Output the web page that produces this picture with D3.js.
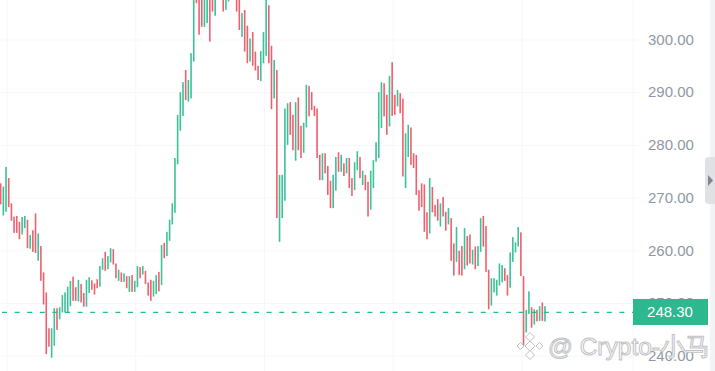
<!DOCTYPE html>
<html>
<head>
<meta charset="utf-8">
<script src="https://cdn.jsdelivr.net/npm/d3@7"></script>
<style>
  html, body { margin: 0; padding: 0; background: #fff; overflow: hidden; }
</style>
</head>
<body>
<div id="chart"></div>
<script>
// candle opens / closes, the ones running off the top are guesses
const opens = [
  272.8, 266.7, 267.4, 273.8, 269.0, 266.5, 266.6, 265.5, 263.1, 264.3,
  265.9, 260.4, 263.9, 267.1, 258.1, 260.9, 255.9, 252.1, 245.3, 239.7,
  242.0, 249.1, 247.0, 248.3, 248.3, 248.3, 249.5, 255.1, 253.1, 250.4,
  253.7, 252.0, 249.4, 252.0, 254.4, 253.8, 254.6, 253.2, 256.4, 259.8,
  256.5, 257.8, 260.3, 257.6, 254.3, 255.9, 254.1, 255.2, 252.2, 255.4,
  252.2, 253.1, 256.9, 255.5, 256.2, 254.0, 254.5, 251.3, 251.8, 256.0,
  253.5, 261.5, 259.0, 261.9, 265.0, 267.2, 276.4, 282.8, 285.6, 294.3,
  288.3, 288.9, 295.9, 309.0, 309.0, 308.5, 302.5, 303.2, 309.5, 308.0,
  304.6, 308.4, 311.0, 308.0, 305.7, 307.3, 311.0, 308.2, 309.0, 308.0,
  300.6, 305.7, 302.7, 295.9, 301.5, 297.8, 295.1, 292.2, 295.6, 297.0,
  306.6, 298.9, 288.9, 294.3, 261.7, 266.2, 269.5, 280.1, 288.2, 285.8,
  277.1, 289.1, 283.7, 278.6, 283.4, 291.3, 290.1, 287.5, 287.0, 278.2,
  273.4, 278.5, 276.1, 273.3, 268.1, 271.4, 278.7, 275.0, 276.6, 274.7,
  277.6, 273.8, 271.5, 275.3, 277.8, 272.5, 274.4, 273.1, 267.8, 271.9,
  276.9, 277.6, 283.3, 291.8, 289.6, 283.6, 295.8, 289.6, 287.4, 289.9,
  288.9, 271.9, 277.8, 283.4, 278.5, 278.2, 271.5, 272.8, 272.6, 267.3,
  263.3, 272.1, 268.7, 269.8, 264.6, 270.2, 267.4, 265.0, 266.2, 261.4,
  257.9, 260.0, 260.9, 256.5, 262.8, 263.1, 257.4, 260.8, 257.1, 259.8,
  266.6, 264.7, 256.4, 249.6, 252.1, 251.5, 253.4, 254.0, 256.7, 255.4,
  253.0, 257.9, 259.7, 260.8, 263.5, 255.2, 244.5, 248.0, 249.3, 246.0,
  248.8, 246.7, 250.2, 246.6
];
const closes = [
  268.8, 272.2, 275.9, 268.3, 265.7, 263.4, 263.4, 262.2, 266.4, 266.6,
  260.5, 263.0, 259.8, 259.6, 263.3, 254.3, 249.8, 240.4, 241.8, 245.3,
  249.1, 245.0, 249.3, 251.6, 252.1, 253.2, 254.3, 250.5, 250.5, 254.5,
  250.2, 249.4, 254.5, 255.0, 252.6, 251.7, 252.9, 257.1, 258.6, 256.2,
  259.0, 260.5, 257.4, 254.8, 256.4, 254.1, 255.7, 252.9, 255.2, 252.2,
  254.3, 257.1, 254.8, 257.1, 253.7, 251.5, 250.5, 254.3, 255.4, 252.3,
  261.1, 258.6, 263.6, 265.9, 269.0, 277.6, 285.8, 290.1, 292.0, 288.6,
  292.4, 297.5, 309.0, 307.0, 301.0, 302.5, 309.0, 309.5, 299.7, 305.4,
  310.0, 311.0, 308.0, 305.4, 308.5, 310.0, 308.0, 310.0, 305.4, 301.9,
  305.1, 297.8, 295.6, 300.3, 295.1, 294.2, 292.4, 297.9, 301.5, 309.0,
  295.6, 286.9, 296.2, 266.2, 274.4, 274.4, 287.0, 288.0, 282.0, 279.1,
  288.2, 279.1, 277.6, 284.3, 291.5, 285.5, 286.7, 285.6, 277.6, 273.4,
  278.5, 274.7, 270.6, 268.1, 274.4, 277.8, 275.0, 278.2, 274.2, 277.6,
  271.9, 270.4, 276.8, 278.9, 273.8, 275.2, 271.5, 266.5, 275.2, 277.2,
  280.6, 290.1, 292.0, 285.5, 282.0, 293.2, 285.6, 285.8, 290.5, 286.1,
  274.1, 282.3, 283.9, 276.3, 275.7, 270.6, 267.6, 268.3, 263.6, 262.2,
  273.8, 267.3, 266.5, 265.7, 269.0, 266.5, 263.8, 268.1, 258.1, 255.3,
  264.5, 255.4, 255.3, 264.3, 257.2, 257.6, 260.2, 256.5, 260.9, 266.2,
  260.8, 256.0, 248.9, 254.8, 254.8, 254.5, 257.6, 257.3, 254.3, 251.5,
  259.7, 262.6, 261.6, 264.5, 255.2, 242.0, 248.8, 252.3, 245.4, 248.9,
  246.6, 249.5, 246.7, 249.5
];
const priceTicks = [240, 250, 260, 270, 280, 290, 300];
const gridIndex = [2.4, 50.4, 98.4, 146.4, 194.4];
const lastPrice = 248.30;

const width = 715, height = 371;
const plotRight = 633;
const green = "#22b98c", red = "#f04a5a", gridColor = "#f6f7f9";

const svg = d3.select("#chart").append("svg")
  .attr("width", width)
  .attr("height", height)
  .style("display", "block");

const x = d3.scaleLinear().domain([0, opens.length - 1]).range([0.67, 545]);
const y = d3.scaleLinear().domain([240, 300]).range([356.2, 40]);

// Right strip of the page
svg.append("rect")
  .attr("x", 710).attr("y", 0)
  .attr("width", 5).attr("height", height)
  .attr("fill", "#f2f3f5");

// Grid
svg.append("g").selectAll("line")
  .data(gridIndex)
  .join("line")
  .attr("x1", d => x(d)).attr("x2", d => x(d))
  .attr("y1", 0).attr("y2", height)
  .attr("stroke", gridColor);

svg.append("line")
  .attr("x1", plotRight).attr("x2", plotRight)
  .attr("y1", 0).attr("y2", height)
  .attr("stroke", gridColor);

svg.append("g").selectAll("line")
  .data(priceTicks)
  .join("line")
  .attr("x1", 0).attr("x2", plotRight + 7)
  .attr("y1", d => y(d)).attr("y2", d => y(d))
  .attr("stroke", gridColor);

// Price axis
const axis = svg.append("g")
  .attr("transform", `translate(${plotRight},0)`)
  .call(d3.axisRight(y).tickValues(priceTicks).tickSize(0).tickPadding(15).tickFormat(d => d.toFixed(2)));
axis.select(".domain").remove();
axis.selectAll("text")
  .attr("dy", "0.28em")
  .attr("fill", "#8f98a5")
  .style("font-family", "'Liberation Sans', Arial, sans-serif")
  .style("font-size", "15px");

// Candles
svg.append("g").attr("opacity", 0.88).selectAll("rect")
  .data(opens.map((o, i) => ({ i, o, c: closes[i] })))
  .join("rect")
  .attr("x", d => x(d.i) - 0.8)
  .attr("width", 1.6)
  .attr("y", d => y(Math.max(d.o, d.c)))
  .attr("height", d => Math.abs(y(d.o) - y(d.c)))
  .attr("fill", d => d.c >= d.o ? green : red);

// Last price line and tag
svg.append("line")
  .attr("x1", 2).attr("x2", plotRight)
  .attr("y1", y(lastPrice)).attr("y2", y(lastPrice))
  .attr("stroke", "#20bd8e")
  .attr("stroke-width", 1.2)
  .attr("stroke-dasharray", "5 7.6");

svg.append("rect")
  .attr("x", plotRight).attr("y", y(lastPrice) - 13.5)
  .attr("width", 75).attr("height", 26)
  .attr("fill", "#2db88f");

svg.append("text")
  .attr("x", plotRight + 37).attr("y", y(lastPrice) - 0.5)
  .attr("dy", "0.35em")
  .attr("text-anchor", "middle")
  .attr("fill", "#fff")
  .style("font-family", "'Liberation Sans', Arial, sans-serif")
  .style("font-size", "15px")
  .text(lastPrice.toFixed(2));

// Collapse handle on the right edge
svg.append("rect")
  .attr("x", 705).attr("y", 157)
  .attr("width", 14).attr("height", 47).attr("rx", 4)
  .attr("fill", "#dfe1e5");
svg.append("path")
  .attr("d", "M708,175L713,180.5L708,186Z")
  .attr("fill", "#7d8590");

// Watermark
const mark = svg.append("g")
  .attr("fill", "#fff")
  .attr("stroke", "#bfc1c5")
  .attr("stroke-width", 1);

[[530, 346, 5], [520.5, 346, 3.5], [539.5, 346, 3.5], [530, 337, 4.5], [530, 355, 4.5]].forEach(([cx, cy, r]) => {
  mark.append("path")
    .attr("d", `M${cx},${cy - r}L${cx + r},${cy}L${cx},${cy + r}L${cx - r},${cy}Z`);
});

mark.append("text")
  .attr("x", 548).attr("y", 355)
  .style("font-family", "'Liberation Sans', Arial, sans-serif")
  .style("font-size", "24.5px")
  .text("@ Crypto-小马");
</script>
</body>
</html>
